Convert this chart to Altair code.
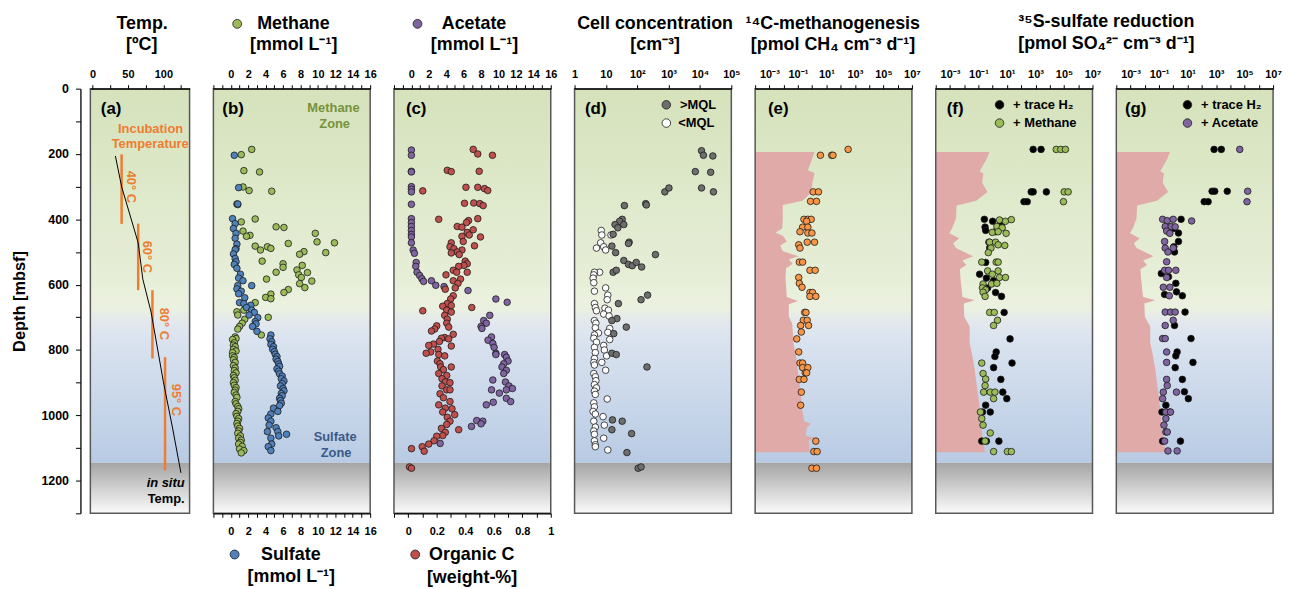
import altair as alt
import pandas as pd

FONT = "Liberation Sans"
H = 428
WA = 100
W = 158
GAP = 24

GREEN = "#9bbb59"; BLUE = "#4f81bd"; PURPLE = "#8064a2"; RED = "#c0504d"
ORANGE = "#f79646"; ANN = "#ed7d31"; GRAYDOT = "#6e6e6e"; PINK = "#dfaaa8"
OLIVE = "#76923c"; NAVY = "#3c5a85"

# ---------------- (a) temperature ----------------
temp_depth = [206, 300, 472, 583, 684, 897, 1039, 1176]
temp_insitu = [32.3, 41.1, 64.5, 71.0, 82.7, 100.0, 113.0, 124.8]
inc_temp = [41.1, 64.5, 84.6, 102.4]
inc_top = [201, 413, 617, 822]
inc_bottom = [414, 617, 826, 1168]

# ---------------- (b) methane / sulfate ----------------
meth_depth = [186, 202, 251, 255, 301, 312, 314, 353, 355, 399, 408, 423, 425, 436, 443, 449, 452, 469, 472, 474,
              482, 484, 489, 494, 499, 502, 507, 528, 536, 541, 547, 555, 562, 563, 570, 578, 583, 589, 597, 609,
              615, 624, 629, 639, 643, 655, 678, 683, 693, 700, 706, 718, 728, 736, 754, 760, 765, 768, 778, 785,
              790, 798, 803, 808, 818, 823, 830, 838, 848, 855, 863, 870, 878, 885, 893, 900, 908, 915, 923, 930,
              938, 945, 958, 965, 973, 980, 988, 995, 1003, 1010, 1018, 1025, 1033, 1040, 1048, 1055, 1063, 1070,
              1076, 1083, 1088, 1095, 1103, 1108, 1115]
meth_val = [2.4, 1.2, 1.5, 3.3, 1.4, 2.1, 4.7, 0.7, 0.8, 2.8, 1.2, 5.2, 6.1, 1.4, 9.7, 2.2, 1.8, 9.9, 11.9, 6.6,
            2.8, 4.2, 4.6, 3.4, 8.4, 10.9, 7.9, 3.6, 6.0, 8.2, 6.0, 7.6, 5.2, 8.8, 7.8, 8.1, 4.1, 9.3, 7.9, 8.5,
            6.6, 6.1, 4.6, 4.0, 4.6, 2.8, 1.5, 0.7, 0.8, 4.3, 1.6, 1.3, 1.0, 0.8, 3.5, 0.5, 0.6, 0.2, 0.4, 0.3,
            0.5, 0.3, 0.6, 0.2, 0.2, 0.4, 0.3, 0.5, 0.3, 0.5, 0.4, 0.6, 0.3, 0.4, 0.5, 0.3, 0.4, 0.6, 0.5, 0.4,
            0.6, 0.7, 0.5, 0.6, 0.8, 0.9, 0.8, 0.6, 0.7, 0.9, 0.8, 0.7, 0.8, 1.0, 0.9, 0.8, 1.1, 0.9,
            1.2, 1.1, 0.9, 1.3, 1.0, 1.5, 1.2]
sulf_depth = [204, 303, 353, 398, 413, 428, 443, 458, 476, 490, 493, 506, 520, 530, 538, 550, 568, 580, 588, 603,
              603, 613, 620, 628, 640, 655, 658, 663, 670, 678, 685, 693, 701, 713, 720, 728, 743, 754, 766, 775,
              783, 790, 798, 805, 813, 820, 828, 835, 843, 850, 858, 865, 873, 880, 888, 895, 903, 910, 918, 925,
              933, 940, 948, 955, 963, 970, 978, 988, 996, 1008, 1018, 1030, 1038, 1050, 1050, 1058, 1063, 1070,
              1088, 1096, 1108]
sulf_val = [0.4, 0.9, 0.8, 0.2, 0.5, 0.3, 0.6, 0.5, 0.7, 0.6, 0.5, 0.3, 0.5, 0.6, 0.4, 0.7, 1.1, 0.9, 1.4, 0.8,
            2.4, 0.7, 1.2, 0.9, 1.6, 1.0, 1.5, 2.3, 1.8, 2.4, 2.7, 2.1, 3.1, 2.8, 2.9, 2.5, 3.0, 4.6, 4.5, 4.7,
            4.6, 4.9, 4.8, 5.0, 5.1, 5.3, 5.2, 5.4, 5.5, 5.6, 5.3, 5.5, 5.6, 5.9, 5.8, 6.1, 5.9, 5.7, 6.0, 6.1,
            5.8, 5.9, 5.6, 5.7, 5.8, 5.6, 4.9, 5.4, 4.6, 4.3, 4.6, 4.4, 5.2, 5.4, 4.2, 6.4, 5.5, 4.6,
            4.7, 4.3, 4.6]

# ---------------- (c) acetate / organic C ----------------
acet_depth = [188, 204, 253, 255, 300, 308, 316, 354, 398, 410, 422, 434, 446, 454, 472, 494, 504, 532, 544, 562,
              572, 582, 590, 588, 602, 606, 618, 644, 654, 694, 710, 718, 728, 734, 760, 770, 780, 792, 810, 814,
              814, 822, 834, 842, 852, 862, 872, 892, 898, 910, 918, 922, 922, 932, 948, 958, 960, 968, 1016,
              1018, 1026, 1034, 1086]
acet_val = [0.0, 0.0, 0.0, 0.0, 0.0, 0.0, 0.0, 0.0, 0.0, 0.0, 0.0, 0.0, 0.0, 0.0, 0.0, 0.2, 0.35, 0.55, 0.5, 0.65,
            0.95, 1.2, 1.4, 2.3, 2.8, 3.75, 6.5, 9.7, 11.0, 9.0, 8.3, 8.6, 8.0, 8.1, 9.2, 8.8, 9.35, 9.5, 9.7, 9.7,
            10.7, 10.9, 11.1, 10.6, 10.4, 10.9, 10.6, 9.35, 10.8, 11.2, 11.6, 10.9, 9.2, 10.1, 10.9, 11.4, 9.4,
            8.6, 7.5, 8.2, 8.0, 6.9, 3.3]
orgc_depth = [186, 200, 204, 250, 253, 254, 302, 302, 306, 312, 313, 350, 351, 352, 358, 398, 400, 404, 410, 422,
              424, 432, 440, 448, 452, 454, 468, 472, 481, 484, 490, 494, 500, 503, 508, 528, 536, 541, 544, 556,
              562, 562, 570, 583, 588, 596, 610, 614, 634, 644, 658, 664, 666, 670, 678, 680, 684, 694, 706, 718,
              726, 730, 736, 742, 752, 762, 764, 766, 774, 782, 786, 788, 798, 806, 810, 814, 818, 834, 842, 852,
              852, 860, 872, 878, 888, 898, 900, 910, 922, 922, 934, 946, 958, 968, 978, 980, 990, 998, 1006, 1018,
              1028, 1040, 1044, 1052, 1062, 1064, 1078, 1088, 1096, 1102, 1110, 1158, 1162]
orgc_val = [0.456, 0.488, 0.591, 0.274, 0.498, 0.302, 0.405, 0.488, 0.535, 0.558, 0.102, 0.46, 0.395, 0.502, 0.526,
            0.488, 0.214, 0.423, 0.409, 0.344, 0.377, 0.456, 0.414, 0.428, 0.377, 0.507, 0.386, 0.302, 0.465, 0.293,
            0.321, 0.377, 0.344, 0.302, 0.358, 0.40, 0.414, 0.391, 0.354, 0.316, 0.34, 0.414, 0.265, 0.367, 0.316,
            0.349, 0.33, 0.26, 0.316, 0.298, 0.274, 0.302, 0.242, 0.446, 0.27, 0.102, 0.302, 0.256, 0.274, 0.27,
            0.2, 0.284, 0.186, 0.163, 0.316, 0.256, 0.233, 0.284, 0.219, 0.177, 0.144, 0.302, 0.209, 0.158, 0.126,
            0.214, 0.256, 0.205, 0.223, 0.228, 0.302, 0.247, 0.214, 0.27, 0.237, 0.26, 0.293, 0.237, 0.27, 0.293,
            0.223, 0.247, 0.293, 0.214, 0.26, 0.307, 0.242, 0.326, 0.274, 0.293, 0.27, 0.233, 0.354, 0.26, 0.242,
            0.2, 0.181, 0.144, 0.098, 0.023, 0.112, 0.009, 0.023]

# ---------------- (d) cell concentration ----------------
cell_hi_depth = [190, 204, 206, 254, 256, 304, 316, 316, 304, 352, 356, 358, 400, 406, 416, 416, 426, 446, 470, 474,
                 482, 502, 508, 526, 538, 542, 532, 546, 562, 556, 646, 632, 658, 704, 710, 730, 750, 810, 814, 852,
                 1014, 1018, 1044, 1056, 1114, 1162, 1158]
cell_hi = [11200, 12900, 25700, 7100, 21900, 11200, 26900, 759, 1023, 186, 195, 38.9, 33.1, 27.5, 37.2, 19.5, 24,
           17, 55, 52.5, 15.5, 20.4, 380, 37.2, 52.5, 69, 93, 138, 17, 21.4, 132, 214, 25, 22.4, 15.5, 44.7, 17.8,
           15.5, 21.4, 204, 16.2, 33.1, 15.5, 66, 46.8, 107, 132]
cell_lo_depth = [434, 448, 448, 472, 488, 484, 494, 562, 562, 570, 580, 594, 620, 610, 632, 646, 658, 670, 680, 672,
                 678, 690, 696, 710, 718, 732, 734, 746, 748, 754, 764, 776, 768, 786, 792, 800, 808, 818, 826, 838,
                 838, 846, 862, 872, 882, 894, 906, 916, 926, 936, 950, 962, 974, 988, 996, 1004, 1018, 1030, 1036,
                 1048, 1058, 1070, 1078, 1090, 1096, 1106]
cell_lo = [7.1, 7.4, 14.5, 6.8, 5.0, 8.5, 9.8, 6.3, 4.3, 4.1, 3.9, 4.1, 4.3, 9.8, 11.5, 11, 4.3, 4.6, 5.0, 9.3,
           12, 8.5, 12.6, 4.3, 4.8, 4.6, 13.2, 11.5, 5.8, 4.3, 4.1, 5.0, 13.2, 8.5, 4.3, 8.9, 4.6, 10.5, 4.3, 4.1,
           7.4, 4.3, 9.8, 4.1, 4.6, 4.8, 4.3, 5.0, 4.3, 4.6, 11, 4.1, 4.3, 3.9, 4.6, 8.1, 4.1, 8.9, 4.6,
           4.1, 4.3, 8.5, 4.3, 4.6, 4.6, 11.5]

# ---------------- (e) methanogenesis ----------------
mg_depth = [186, 204, 204, 204, 316, 316, 345, 345, 400, 400, 400, 406, 424, 424, 438, 442, 442, 470, 470, 478, 488,
            531, 531, 556, 556, 578, 596, 608, 624, 624, 636, 636, 685, 685, 709, 709, 725, 725, 745, 766, 806,
            840, 840, 854, 854, 870, 870, 890, 890, 929, 969, 1079, 1111, 1111, 1162, 1162]
mg_rate = [335, 3.8, 23.4, 28.9, 1.18, 2.78, 0.77, 2.02, 0.267, 0.50, 0.86, 0.41, 0.215, 0.50, 0.14, 0.50, 0.96,
           0.45, 1.47, 0.114, 0.14, 0.126, 0.215, 0.70, 1.63, 0.114, 0.126, 0.194, 0.70, 1.06, 0.70, 1.81, 0.30,
           0.37, 0.24, 0.45, 0.156, 0.56, 0.174, 0.083, 0.114, 0.14, 0.215, 0.215, 0.50, 0.33, 0.41, 0.126, 0.267,
           0.174, 0.156, 1.81, 1.32, 2.24, 0.96, 2.02]
mql_e_depth = [194, 218, 250, 258, 288, 318, 343, 356, 398, 428, 440, 450, 468, 480, 498, 513, 523, 536, 550, 578,
               638, 650, 660, 698, 718, 738, 778, 818, 858, 898, 938, 978, 1018, 1026, 1038, 1063, 1068, 1078, 1113]
mql_e = [1.46, 0.95, 0.50, 1.46, 1.05, 0.85, 0.21, 0.0087, 0.0087, 0.0079, 0.0027, 0.0087, 0.0166, 0.0057, 0.0087,
         0.112, 0.023, 0.043, 0.015, 0.0134, 0.0166, 0.102, 0.023, 0.023, 0.039, 0.043, 0.048, 0.074, 0.096, 0.126,
         0.164, 0.19, 0.28, 0.81, 0.41, 0.36, 1.81, 0.56, 0.69]

# ---------------- (f), (g) sulfate reduction ----------------
mql_s_depth = [194, 218, 253, 260, 288, 316, 343, 358, 398, 428, 443, 458, 473, 488, 513, 526, 540, 553, 578, 638,
               648, 658, 698, 728, 778, 818, 858, 898, 958, 1018, 1058, 1113]
mql_s = [0.59, 0.35, 0.12, 0.22, 0.18, 0.43, 0.07, 0.0029, 0.0026, 0.0014, 0.0009, 0.0044, 0.0017, 0.0026, 0.041,
         0.0075, 0.014, 0.0049, 0.0054, 0.0075, 0.054, 0.0093, 0.010, 0.024, 0.024, 0.037, 0.054, 0.07, 0.107,
         0.14, 0.18, 0.28]
f_h2_depth = [186, 186, 316, 316, 316, 346, 346, 400, 406, 424, 434, 408, 420, 438, 470, 488, 532, 568, 580, 588,
              610, 624, 636, 685, 766, 806, 820, 840, 854, 890, 929, 949, 969, 990, 990, 1079, 1079, 1079]
f_h2 = [684, 2460, 500, 684, 5800, 155, 263, 0.258, 0.98, 0.29, 0.32, 3.7, 4.1, 1.58, 0.54, 0.61, 0.32, 0.12, 0.36,
        1.15, 0.44, 1.58, 4.1, 6.3, 16.4, 1.75, 1.42, 22.6, 1.15, 3.7, 5.1, 9.7, 0.32, 0.19, 0.67, 0.17, 0.36, 2.7]
f_ch4_depth = [186, 186, 186, 316, 316, 346, 402, 406, 401, 422, 426, 440, 438, 443, 470, 470, 478, 480, 488, 502,
               531, 531, 531, 558, 568, 558, 578, 578, 598, 598, 596, 610, 616, 623, 636, 685, 685, 709, 725, 840,
               872, 889, 909, 929, 929, 929, 949, 990, 1010, 1030, 1054, 1079, 1111, 1111, 1111]
f_ch4 = [28500, 60000, 126000, 103000, 195000, 92000, 3.0, 7.8, 20.3, 1.95, 4.6, 0.93, 2.4, 8.7, 0.61, 1.58, 2.4,
         7.0, 0.75, 0.49, 0.17, 1.75, 2.4, 0.44, 0.93, 2.4, 3.0, 7.8, 0.21, 0.83, 1.95, 0.19, 0.32, 0.21, 0.29,
         0.61, 1.28, 2.17, 1.15, 0.17, 0.21, 0.32, 0.29, 0.23, 0.67, 1.42, 1.15, 0.136, 0.17, 0.21, 0.67, 0.29,
         1.15, 10.7, 20.3]
g_h2_depth = [186, 186, 314, 314, 314, 346, 346, 400, 428, 442, 468, 484, 500, 566, 576, 596, 622, 634, 630, 684,
              725, 765, 806, 818, 838, 854, 890, 928, 949, 969, 990, 990, 1079, 1079]
g_h2 = [723, 2330, 525, 803, 6070, 146, 277, 3.5, 1.09, 2.3, 2.3, 1.09, 1.21, 0.144, 0.46, 1.5, 1.66, 4.3, 0.245,
        6.65, 1.21, 17.4, 1.85, 1.5, 23.9, 1.35, 4.3, 6.0, 11.3, 0.30, 0.16, 0.57, 0.178, 3.16]
g_ac_depth = [186, 314, 346, 400, 404, 400, 405, 422, 422, 423, 436, 443, 468, 488, 500, 488, 530, 556, 556, 556,
              578, 608, 608, 634, 684, 684, 684, 709, 725, 765, 765, 806, 838, 890, 909, 929, 929, 949, 990, 990,
              1010, 1030, 1051, 1051, 1079, 1109, 1109]
g_ac = [46000, 165000, 148000, 0.178, 0.375, 0.98, 19.3, 0.27, 0.71, 1.35, 0.34, 0.57, 0.245, 0.27, 0.42, 0.98,
        0.34, 0.245, 0.46, 1.5, 0.34, 0.198, 0.57, 0.52, 0.27, 0.64, 1.35, 0.98, 0.27, 0.178, 0.27, 0.34, 0.34,
        0.34, 0.375, 0.198, 1.66, 0.178, 0.30, 0.64, 0.30, 0.22, 0.30, 0.375, 0.245, 0.42, 1.85]

# ---------------- helpers ----------------
ysc = alt.Scale(domain=[0, 1300], reverse=True, nice=False, zero=False)
one = pd.DataFrame({"k": [0]})
sed_df = pd.DataFrame({"top": [0], "bottom": [1145]})
rock_df = pd.DataFrame({"top": [1145], "bottom": [1300]})
frame_df = pd.DataFrame({"top": [0], "bottom": [1300]})


def grad(stops):
    return {"gradient": "linear", "x1": 0, "y1": 0, "x2": 0, "y2": 1,
            "stops": [{"offset": o, "color": c} for o, c in stops]}


SED_GRAD = grad([(0.0, "#d5e2bb"), (0.5, "#e6eed7"), (0.585, "#ebf1df"), (0.625, "#e2e8ed"),
                 (0.67, "#dae3ef"), (1.0, "#b8cbe4")])
ROCK_GRAD = grad([(0.0, "#a4a4a4"), (1.0, "#fbfbfb")])


def yq(field, axis=None):
    return alt.Y(field, type="quantitative", scale=ysc, axis=axis)


def bg(width, yaxis=None):
    s = alt.Chart(sed_df).mark_rect(fill=SED_GRAD, strokeWidth=0).encode(
        x=alt.value(0), x2=alt.value(width), y=yq("top", yaxis), y2="bottom:Q")
    r = alt.Chart(rock_df).mark_rect(fill=ROCK_GRAD, strokeWidth=0).encode(
        x=alt.value(0), x2=alt.value(width), y=yq("top", yaxis), y2="bottom:Q")
    return [s, r]


def frame(width, yaxis=None):
    return alt.Chart(frame_df).mark_rect(filled=False, stroke="#575757", strokeWidth=1.5).encode(
        x=alt.value(0), x2=alt.value(width), y=yq("top", yaxis), y2="bottom:Q")


def pts(df, xf, xscale, xaxis, color, yaxis=None, size=44, stroke="#1a1a1a"):
    return alt.Chart(df).mark_point(shape="circle", filled=True, fill=color, stroke=stroke, strokeWidth=0.8,
                                    size=size, opacity=1).encode(
        x=alt.X(xf, type="quantitative", scale=xscale, axis=xaxis), y=yq("depth", yaxis))


def txt(s, x, y, size=13, color="black", align="center", angle=0, italic=False):
    kw = dict(text=s, fontSize=size, font=FONT, fontWeight="bold", color=color, align=align, baseline="middle")
    if angle:
        kw["angle"] = angle
    if italic:
        kw["fontStyle"] = "italic"
    return alt.Chart(one).mark_text(**kw).encode(x=alt.value(x), y=alt.value(y))


def dot(x, y, color, size=72, stroke="#1a1a1a"):
    return alt.Chart(one).mark_point(shape="circle", filled=True, fill=color, stroke=stroke, strokeWidth=0.8,
                                     size=size, opacity=1).encode(x=alt.value(x), y=alt.value(y))


def xaxis(values, expr, orient="top", lp=5):
    return alt.Axis(orient=orient, values=values, labelExpr=expr, title=None, labelFontSize=11,
                    labelFontWeight="bold", labelFont=FONT, labelColor="black", labelPadding=lp, tickSize=4,
                    tickColor="black", domainColor="black", domainWidth=1.2, labelFlush=False,
                    labelOverlap=False, labelBound=False, grid=False, zindex=1)


def log_expr(mapping):
    e = "round(log(datum.value)/LN10)"
    expr = "''"
    for k, v in reversed(list(mapping.items())):
        expr = f"({e} == {k}) ? '{v}' : {expr}"
    return expr


T1, T2 = -65.3, -43.7
HF = 18
PL = 20.5
B1, B2 = 470.5, 492

# ---------------- panel A ----------------
depth_axis = alt.Axis(orient="left", offset=10, values=list(range(0, 1301, 100)), format="d",
                      labelExpr="datum.value % 200 == 0 ? datum.label : ''", title="Depth [mbsf]",
                      titleFont=FONT, titleFontSize=16.5, titleFontWeight="bold", titleColor="black",
                      titlePadding=14, labelFont=FONT, labelFontSize=12.5, labelFontWeight="bold",
                      labelColor="black", labelPadding=7, tickSize=5, tickColor="black", domainColor="black",
                      domainWidth=1.3, labelFlush=False, labelOverlap=False, grid=False)
temp_sc = alt.Scale(domain=[-3, 137], nice=False, zero=False)
temp_ax = xaxis([0, 25, 50, 75, 100, 125], "datum.value % 50 == 0 ? datum.label : ''")
inc_df = pd.DataFrame({"temp": inc_temp, "top": inc_top, "bottom": inc_bottom})
insitu_df = pd.DataFrame({"temp": temp_insitu, "depth": temp_depth})

A = alt.layer(
    *bg(WA, depth_axis),
    alt.Chart(inc_df).mark_rule(color=ANN, strokeWidth=2.5).encode(
        x=alt.X("temp:Q", scale=temp_sc, axis=temp_ax), y=yq("top", depth_axis), y2="bottom:Q"),
    alt.Chart(insitu_df).mark_line(color="black", strokeWidth=1).encode(
        x=alt.X("temp:Q", scale=temp_sc, axis=temp_ax), y=yq("depth", depth_axis), order="depth:Q"),
    txt("(a)", 10.5, PL, size=17, align="left"),
    txt("Incubation", 60.7, 40.7, color=ANN),
    txt("Temperature", 60.3, 56, color=ANN),
    txt("40° C", 41.4, 99, color=ANN, angle=90),
    txt("60° C", 57, 169.5, color=ANN, angle=90),
    txt("80° C", 74.4, 237, color=ANN, angle=90),
    txt("95° C", 86.4, 313.7, color=ANN, angle=90),
    txt("in situ", 95, 397.7, align="right", italic=True),
    txt("Temp.", 95, 413.7, align="right"),
    txt("Temp.", 52.2, T1, size=HF),
    txt("[ºC]", 51.8, T2, size=HF),
    frame(WA, depth_axis),
).properties(width=WA, height=H)

# ---------------- panel B ----------------
lin_sc = alt.Scale(domain=[-2, 16], nice=False, zero=False)
even_expr = "datum.value >= 0 && datum.value % 2 == 0 ? datum.label : ''"
meth_df = pd.DataFrame({"depth": meth_depth, "val": meth_val})
sulf_df = pd.DataFrame({"depth": sulf_depth, "val": sulf_val})
B = alt.layer(
    *bg(W),
    pts(meth_df, "val", lin_sc, xaxis(list(range(-2, 17)), even_expr, "top"), GREEN),
    pts(sulf_df, "val", lin_sc, xaxis(list(range(-2, 17)), even_expr, "bottom", lp=8), BLUE),
    txt("(b)", 9, PL, size=17, align="left"),
    txt("Methane", 121, 19.7, color=OLIVE),
    txt("Zone", 122.2, 35.3, color=OLIVE),
    txt("Sulfate", 122.7, 351.3, color=NAVY),
    txt("Zone", 123.7, 367, color=NAVY),
    dot(24, T1, GREEN, size=80),
    txt("Methane", 80.7, T1, size=HF),
    txt("[mmol L⁻¹]", 80.9, T2, size=HF),
    dot(21.4, B1 - 1, BLUE, size=80),
    txt("Sulfate", 78, B1, size=HF),
    txt("[mmol L⁻¹]", 78.5, B2, size=HF),
    frame(W),
).resolve_scale(x="independent").properties(width=W, height=H)

# ---------------- panel C ----------------
oc_sc = alt.Scale(domain=[-0.1, 1.0], nice=False, zero=False)
oc_vals = [round(i * 0.1, 1) for i in range(-1, 11)]
oc_expr = "datum.value >= 0 && round(datum.value*10) % 2 == 0 ? toString(datum.value) : ''"
acet_df = pd.DataFrame({"depth": acet_depth, "val": acet_val})
orgc_df = pd.DataFrame({"depth": orgc_depth, "val": orgc_val})
C = alt.layer(
    *bg(W),
    pts(acet_df, "val", lin_sc, xaxis(list(range(-2, 17)), even_expr, "top"), PURPLE),
    pts(orgc_df, "val", oc_sc, xaxis(oc_vals, oc_expr, "bottom", lp=8), RED),
    txt("(c)", 12, PL, size=17, align="left"),
    dot(23.7, T1, PURPLE, size=80),
    txt("Acetate", 80.7, T1, size=HF),
    txt("[mmol L⁻¹]", 81.2, T2, size=HF),
    dot(21.4, B1 - 1, RED, size=80),
    txt("Organic C", 78.4, B1, size=HF),
    txt("[weight-%]", 78.7, B2 + 1.7, size=HF),
    frame(W),
).resolve_scale(x="independent").properties(width=W, height=H)

# ---------------- panel D ----------------
cell_sc = alt.Scale(type="log", domain=[1, 100000], nice=False)
cell_ax = xaxis([1, 10, 100, 1000, 10000, 100000],
                log_expr({0: "1", 1: "10", 2: "10²", 3: "10³", 4: "10⁴", 5: "10⁵"}))
hi_df = pd.DataFrame({"depth": cell_hi_depth, "val": cell_hi})
lo_df = pd.DataFrame({"depth": cell_lo_depth, "val": cell_lo})
D = alt.layer(
    *bg(W),
    pts(lo_df, "val", cell_sc, cell_ax, "white"),
    pts(hi_df, "val", cell_sc, cell_ax, GRAYDOT),
    txt("(d)", 10.5, PL, size=17, align="left"),
    dot(92.5, 16.3, GRAYDOT, size=74),
    txt(">MQL", 106.2, 16.3, align="left"),
    dot(92.5, 34.7, "white", size=74),
    txt("<MQL", 104.5, 34.7, align="left"),
    txt("Cell concentration", 81.2, T1, size=HF),
    txt("[cm⁻³]", 81.2, T2, size=HF),
    frame(W),
).properties(width=W, height=H)

# ---------------- panels E, F, G ----------------
rate_sc = alt.Scale(type="log", domain=[0.0001, 10000000], nice=False)
rate_vals = [10.0 ** k for k in range(-4, 8)]
rate_expr = log_expr({-3: "10⁻³", -1: "10⁻¹", 1: "10¹", 3: "10³", 5: "10⁵", 7: "10⁷"})


def mql_area(depths, vals):
    df = pd.DataFrame({"depth": depths, "val": vals}).sort_values("depth")
    return alt.Chart(df).mark_area(orient="horizontal", color=PINK, opacity=1).encode(
        y=yq("depth"), x=alt.X("val:Q", scale=rate_sc, axis=xaxis(rate_vals, rate_expr)),
        x2=alt.datum(0.0001))


mg_df = pd.DataFrame({"depth": mg_depth, "val": mg_rate})
E = alt.layer(
    *bg(W),
    mql_area(mql_e_depth, mql_e),
    pts(mg_df, "val", rate_sc, xaxis(rate_vals, rate_expr), ORANGE),
    txt("(e)", 12.9, PL, size=17, align="left"),
    txt("¹⁴C-methanogenesis", 78.2, T1, size=HF),
    txt("[pmol CH₄ cm⁻³ d⁻¹]", 78.5, T2, size=HF),
    frame(W),
).properties(width=W, height=H)

fh_df = pd.DataFrame({"depth": f_h2_depth, "val": f_h2})
fc_df = pd.DataFrame({"depth": f_ch4_depth, "val": f_ch4})
F = alt.layer(
    *bg(W),
    mql_area(mql_s_depth, mql_s),
    pts(fh_df, "val", rate_sc, xaxis(rate_vals, rate_expr), "black"),
    pts(fc_df, "val", rate_sc, xaxis(rate_vals, rate_expr), GREEN),
    txt("(f)", 11.1, PL, size=17, align="left"),
    dot(64.3, 16.3, "black", size=74),
    txt("+ trace H₂", 78, 16.3, align="left"),
    dot(64.3, 34.7, GREEN, size=74),
    txt("+ Methane", 78, 34.7, align="left"),
    txt("³⁵S-sulfate reduction", 172, -67.5, size=HF),
    txt("[pmol SO₄²⁻ cm⁻³ d⁻¹]", 172, -44.7, size=HF),
    frame(W),
).properties(width=W, height=H)

gh_df = pd.DataFrame({"depth": g_h2_depth, "val": g_h2})
ga_df = pd.DataFrame({"depth": g_ac_depth, "val": g_ac})
G = alt.layer(
    *bg(W),
    mql_area(mql_s_depth, mql_s),
    pts(gh_df, "val", rate_sc, xaxis(rate_vals, rate_expr), "black"),
    pts(ga_df, "val", rate_sc, xaxis(rate_vals, rate_expr), PURPLE),
    txt("(g)", 8.7, PL, size=17, align="left"),
    dot(71.7, 16.3, "black", size=74),
    txt("+ trace H₂", 85.4, 16.3, align="left"),
    dot(71.7, 34.7, PURPLE, size=74),
    txt("+ Acetate", 85.4, 34.7, align="left"),
    frame(W),
).properties(width=W, height=H)

chart = alt.hconcat(A, B, C, D, E, F, G, spacing=GAP, bounds="flush").configure_view(
    strokeWidth=0).properties(padding={"left": 3, "top": 2, "right": 2, "bottom": 0}, background="white")

chart.save("out.html", embed_options={"renderer": "svg", "actions": False})
